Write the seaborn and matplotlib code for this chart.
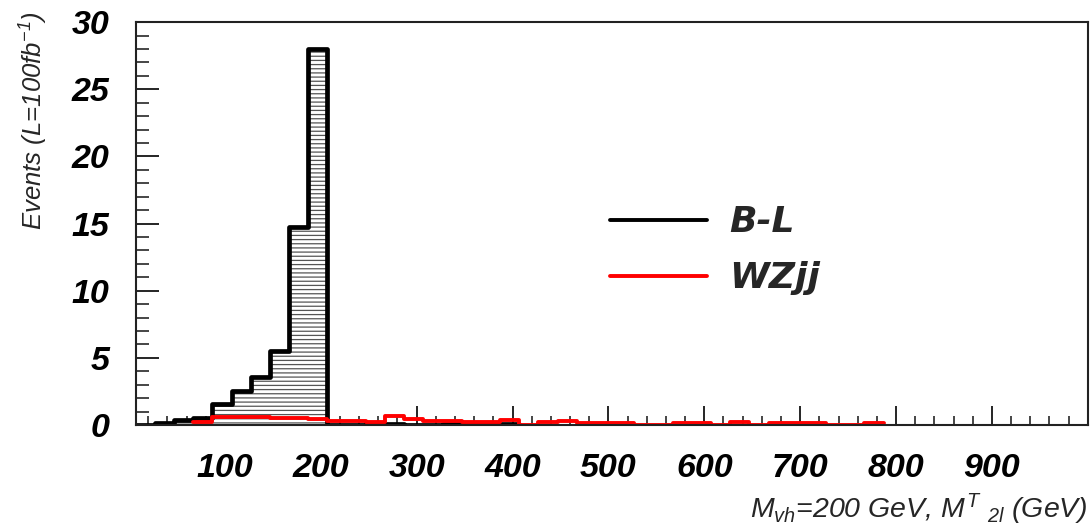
import numpy as np
import pandas as pd
import matplotlib
matplotlib.use("Agg")
import matplotlib.pyplot as plt
import seaborn as sns
from matplotlib.ticker import FixedLocator, MultipleLocator

# ---------------- data ----------------
bin_width = 20.0
bl_start = 7.0
bl_events = [0.0, 0.12, 0.37, 0.55, 1.55, 2.5, 3.6, 5.55, 14.75, 28.0,
             0.0, 0.0, 0.1, 0.08, 0.0, 0.0, 0.08, 0.08, 0.08, 0.08]
wz_start = 67.0
wz_events = [0.2, 0.62, 0.62, 0.62, 0.5, 0.5, 0.45, 0.32, 0.3, 0.2,
             0.7, 0.45, 0.32, 0.3, 0.25, 0.22, 0.35, 0.0, 0.2, 0.3,
             0.12, 0.12, 0.12, 0.0, 0.0, 0.12, 0.12, 0.0, 0.25, 0.0,
             0.12, 0.12, 0.12, 0.0, 0.0, 0.12]
series_labels = ["B-L", "WZjj"]
x_ticks = [100, 200, 300, 400, 500, 600, 700, 800, 900]
y_ticks = [0, 5, 10, 15, 20, 25, 30]
x_title = r"$M_{vh}$=200 GeV, $M^{T}$ ${}_{2l}$ (GeV)"
y_title = r"Events (L=100fb$^{-1}$)"


def make_frame(start, values, name):
    edges = start + bin_width * np.arange(len(values) + 1)
    centers = 0.5 * (edges[:-1] + edges[1:])
    return (pd.DataFrame({"mass": centers, "events": values, "sample": name}),
            [float(e) for e in edges])


bl_df, bl_edges = make_frame(bl_start, bl_events, series_labels[0])
wz_df, wz_edges = make_frame(wz_start, wz_events, series_labels[1])

# ---------------- style ----------------
sns.set_theme(style="white")
plt.rcParams.update({
    "font.family": ["Liberation Sans", "DejaVu Sans"],
    "font.style": "italic",
    "mathtext.fontset": "custom",
    "mathtext.rm": "Liberation Sans:italic",
    "mathtext.it": "Liberation Sans:italic",
    "mathtext.default": "it",
    "hatch.linewidth": 0.9,
    "axes.edgecolor": "#222222",
    "axes.linewidth": 1.5,
})

fig = plt.figure(figsize=(10.9, 5.28), dpi=100)
ax = fig.add_axes([0.1245, 0.195, 0.8735, 0.763])

# hatched fill of B-L
sns.histplot(data=bl_df, x="mass", weights="events", bins=bl_edges,
             element="step", fill=True, color="black", ax=ax, zorder=1)
poly = ax.collections[-1]
poly.set_facecolor("white")
poly.set_edgecolor("#555555")
poly.set_hatch("----")
poly.set_linewidth(0)

# outlines
sns.histplot(data=bl_df, x="mass", weights="events", bins=bl_edges,
             element="step", fill=False, color="black", linewidth=3.4,
             ax=ax, label=series_labels[0], zorder=3)
sns.histplot(data=wz_df, x="mass", weights="events", bins=wz_edges,
             element="step", fill=False, color="#ff0000", linewidth=2.8,
             ax=ax, label=series_labels[1], zorder=3)

ax.set_xlim(7, 1000)
ax.set_ylim(0, 30)
ax.set_xlabel("")
ax.set_ylabel("")

ax.xaxis.set_major_locator(FixedLocator(x_ticks + [1000]))
ax.xaxis.set_minor_locator(MultipleLocator(20))
ax.yaxis.set_major_locator(FixedLocator(y_ticks))
ax.yaxis.set_minor_locator(MultipleLocator(1))
ax.set_xticklabels([str(v) for v in x_ticks] + [""])
ax.set_yticklabels([str(v) for v in y_ticks])

ax.tick_params(axis="x", which="major", direction="in", length=13.5, width=1.2,
               pad=20, labelsize=24.5, colors="black")
ax.tick_params(axis="x", which="minor", direction="in", length=6.5, width=1.2)
ax.tick_params(axis="y", which="major", direction="in", length=16.5, width=1.2,
               pad=19, labelsize=24.5, colors="black")
ax.tick_params(axis="y", which="minor", direction="in", length=9.5, width=1.2)
ax.tick_params(top=False, right=False, bottom=True, left=True)
ax.tick_params(which="minor", top=False, right=False, bottom=True, left=True)
for lbl in ax.get_xticklabels() + ax.get_yticklabels():
    lbl.set_fontweight("bold")
    lbl.set_fontstyle("italic")

for sp in ax.spines.values():
    sp.set_visible(True)
    sp.set_zorder(4)

# legend
handles = [ln for ln in ax.get_lines() if ln.get_label() in series_labels]
leg = ax.legend(handles=handles, labels=[h.get_label() for h in handles],
                loc="upper left", bbox_to_anchor=(0.498, 0.545),
                frameon=False, borderpad=0, borderaxespad=0,
                handlelength=2.7, handletextpad=0.6, labelspacing=0.6,
                prop={"family": "DejaVu Sans", "weight": "bold",
                      "style": "italic", "size": 26})
for ln in leg.get_lines():
    ln.set_linewidth(2.8)

fig.text(0.031, 0.771, y_title, rotation=90, ha="center", va="center",
         fontsize=18.5, fontstyle="italic")
fig.text(0.998, 0.019, x_title, ha="right", va="baseline",
         fontsize=20.5, fontstyle="italic")

fig.savefig("out.png", dpi=100, facecolor="white")
